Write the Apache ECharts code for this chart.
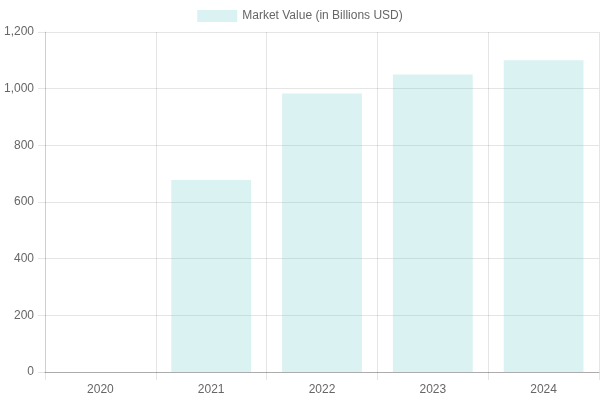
<!DOCTYPE html>
<html><head><meta charset="utf-8">
<script src="https://cdn.jsdelivr.net/npm/echarts@6/dist/echarts.min.js"></script>
<style>html,body{margin:0;padding:0;background:#fff}#c{width:600px;height:400px}</style>
</head><body><div id="c"></div>
<script>
const categories = ['2020','2021','2022','2023','2024'];
const marketValue = [0, 678, 983, 1050, 1100];
const seriesName = 'Market Value (in Billions USD)';
const chart = echarts.init(document.getElementById('c'), null, {renderer:'canvas'});
const font = 'Liberation Sans, Arial, Helvetica, sans-serif';
chart.setOption({
  animation:false,
  legend:{top:10, left:'center', itemWidth:40, itemHeight:12, itemGap:10, padding:0,
    textStyle:{color:'#666', fontSize:12, fontFamily:font},
    data:[{name:seriesName, icon:'rect'}]},
  grid:{left:45, right:1, top:32, bottom:28, containLabel:false},
  xAxis:{type:'category', data:categories, boundaryGap:true,
    axisLine:{show:true, lineStyle:{color:'rgba(0,0,0,0.25)'}},
    axisTick:{show:true, alignWithLabel:false, length:8, lineStyle:{color:'rgba(0,0,0,0.1)'}},
    splitLine:{show:true, lineStyle:{color:'rgba(0,0,0,0.1)'}},
    axisLabel:{color:'#666', fontSize:12, fontFamily:font, margin:12}},
  yAxis:{type:'value', min:0, max:1200, interval:200,
    axisLine:{show:true, lineStyle:{color:'rgba(0,0,0,0.1)'}},
    axisTick:{show:true, length:7, lineStyle:{color:'rgba(0,0,0,0.1)'}},
    splitLine:{show:true, lineStyle:{color:'rgba(0,0,0,0.1)'}},
    axisLabel:{color:'#666', fontSize:12, fontFamily:font, margin:11,
      formatter:v=>v.toLocaleString('en-US')}},
  series:[{name:seriesName, type:'bar', data:marketValue, barWidth:'72%',
    itemStyle:{color:'rgba(75,192,192,0.2)'}}]
});
</script></body></html>
